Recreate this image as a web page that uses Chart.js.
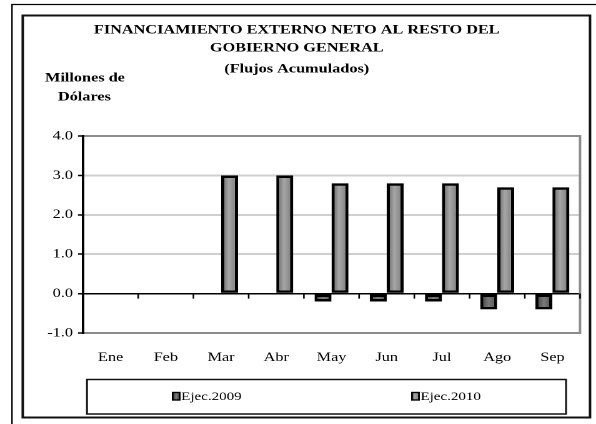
<!DOCTYPE html>
<html>
<head>
<meta charset="utf-8">
<script src="https://cdn.jsdelivr.net/npm/chart.js@4/dist/chart.umd.min.js"></script>
<style>
  html, body { margin: 0; padding: 0; background: #fff; overflow: hidden; }
  /* el gráfico original viene estirado en horizontal */
  #marco { width: 477px; height: 424px; transform: scaleX(1.2495); transform-origin: 0 0; }
</style>
</head>
<body>
<div id="marco"><canvas id="grafico"></canvas></div>
<script>
// Datos
const meses = ['Ene', 'Feb', 'Mar', 'Abr', 'May', 'Jun', 'Jul', 'Ago', 'Sep'];
const ejec2009 = [0, 0, 0, 0, -0.2, -0.2, -0.2, -0.4, -0.4];
const ejec2010 = [0, 0, 3.0, 3.0, 2.8, 2.8, 2.8, 2.7, 2.7];
const series = ['Ejec.2009', 'Ejec.2010'];
const yMin = -1;
const yMax = 4;
const titulo = ['FINANCIAMIENTO EXTERNO NETO AL RESTO DEL', 'GOBIERNO GENERAL', '(Flujos Acumulados)'];
const tituloEje = ['Millones de', 'Dólares'];

const SERIF = '"Liberation Serif", "Times New Roman", serif';

// degradados de las barras (de izquierda a derecha)
const degradados = [
    [[0, '#3a3a3a'], [0.5, '#7a7a7a'], [1, '#4a4a4a']],
    [[0, '#5e5e5e'], [0.45, '#a6a6a6'], [1, '#777777']]
];

function crearDegradado(ctx, x0, x1, paradas) {
    const g = ctx.createLinearGradient(x0, 0, x1, 0);
    paradas.forEach(([p, c]) => g.addColorStop(p, c));
    return g;
}

// dibuja marcos, bordes del área, marcas del eje cero, títulos y leyenda
const decoracion = {
    id: 'decoracion',
    beforeDatasetsDraw(chart) {
        const ctx = chart.ctx;
        chart.data.datasets.forEach((ds, i) => {
            chart.getDatasetMeta(i).data.forEach(bar => {
                const g = crearDegradado(ctx, bar.x - bar.width / 2, bar.x + bar.width / 2, degradados[i]);
                bar.options = Object.assign({}, bar.options, { backgroundColor: g });
            });
        });
    },
    afterDraw(chart) {
        const ctx = chart.ctx;
        const area = chart.chartArea;
        const y = chart.scales.y;
        ctx.save();

        // líneas de la hoja
        ctx.strokeStyle = '#000';
        ctx.lineWidth = 1.2;
        ctx.beginPath();
        ctx.moveTo(9.6, chart.height);
        ctx.lineTo(9.6, 4.5);
        ctx.lineTo(chart.width, 4.5);
        ctx.stroke();

        // marco del gráfico
        ctx.strokeStyle = '#111';
        ctx.lineWidth = 2;
        ctx.strokeRect(18.2, 15.5, 454, 402);

        // borde derecho del área de trazado
        ctx.strokeStyle = '#8c8c8c';
        ctx.lineWidth = 2;
        ctx.beginPath();
        ctx.moveTo(area.right, area.top - 1);
        ctx.lineTo(area.right, area.bottom + 1);
        ctx.stroke();

        // marcas entre categorías sobre la línea de cero
        const y0 = y.getPixelForValue(0);
        const paso = (area.right - area.left) / meses.length;
        ctx.strokeStyle = '#000';
        ctx.lineWidth = 1.3;
        ctx.beginPath();
        for (let i = 1; i <= meses.length; i++) {
            const xi = area.left + i * paso;
            ctx.moveTo(xi, y0);
            ctx.lineTo(xi, y0 + 5);
        }
        ctx.stroke();

        // títulos
        ctx.fillStyle = '#000';
        ctx.textAlign = 'center';
        ctx.textBaseline = 'middle';
        ctx.font = 'bold 13px ' + SERIF;
        const yTitulo = [30, 48, 69];
        titulo.forEach((t, i) => ctx.fillText(t, 237.5, yTitulo[i]));
        ctx.fillText(tituloEje[0], 68, 78);
        ctx.fillText(tituloEje[1], 67.5, 97);

        // leyenda
        ctx.strokeStyle = '#111';
        ctx.lineWidth = 1.5;
        ctx.strokeRect(69.6, 379.5, 383.4, 34.5);
        const xMarca = [138.2, 329.7];
        ctx.font = '12px ' + SERIF;
        ctx.textAlign = 'left';
        chart.data.datasets.forEach((ds, i) => {
            const mx = xMarca[i];
            ctx.fillStyle = crearDegradado(ctx, mx, mx + 5.6, degradados[i]);
            ctx.fillRect(mx, 392.5, 5.6, 7.5);
            ctx.lineWidth = 1.4;
            ctx.strokeStyle = '#000';
            ctx.strokeRect(mx, 392.5, 5.6, 7.5);
            ctx.fillStyle = '#000';
            ctx.fillText(ds.label, mx + 6.8, 397);
        });

        ctx.restore();
    }
};

const estiloBarra = {
    categoryPercentage: 0.615,
    barPercentage: 1,
    borderColor: '#000',
    borderWidth: 2.6,
    borderSkipped: false,
    backgroundColor: '#888'
};

new Chart(document.getElementById('grafico').getContext('2d'), {
    type: 'bar',
    data: {
        labels: meses,
        datasets: [
            Object.assign({ label: series[0], data: ejec2009 }, estiloBarra),
            Object.assign({ label: series[1], data: ejec2010 }, estiloBarra)
        ]
    },
    options: {
        responsive: true,
        maintainAspectRatio: false,
        animation: false,
        devicePixelRatio: 2,
        layout: { padding: { left: 0, right: 12.8, top: 136, bottom: 0 } },
        plugins: {
            colors: { enabled: false },
            legend: { display: false },
            title: { display: false },
            tooltip: { enabled: false }
        },
        scales: {
            x: {
                grid: { display: false, drawTicks: false },
                border: { display: false },
                ticks: {
                    padding: 17,
                    color: '#000',
                    font: { family: SERIF, size: 13 }
                },
                afterFit: s => { s.height = 91; }
            },
            y: {
                min: yMin,
                max: yMax,
                ticks: {
                    stepSize: 1,
                    padding: 4,
                    color: '#000',
                    font: { family: SERIF, size: 13 },
                    callback: v => v.toFixed(1)
                },
                grid: {
                    color: c => {
                        const v = c.tick ? c.tick.value : null;
                        if (v === 0) return '#000';
                        if (v === yMin || v === yMax) return '#8c8c8c';
                        return '#cfcfcf';
                    },
                    lineWidth: c => (c.tick && c.tick.value === 0 ? 1.5 : 2),
                    tickColor: '#000',
                    tickLength: 4,
                    tickWidth: 1.5
                },
                border: { display: true, color: '#000', width: 2 },
                afterFit: s => { s.width = 66.4; }
            }
        }
    },
    plugins: [decoracion]
});
</script>
</body>
</html>
